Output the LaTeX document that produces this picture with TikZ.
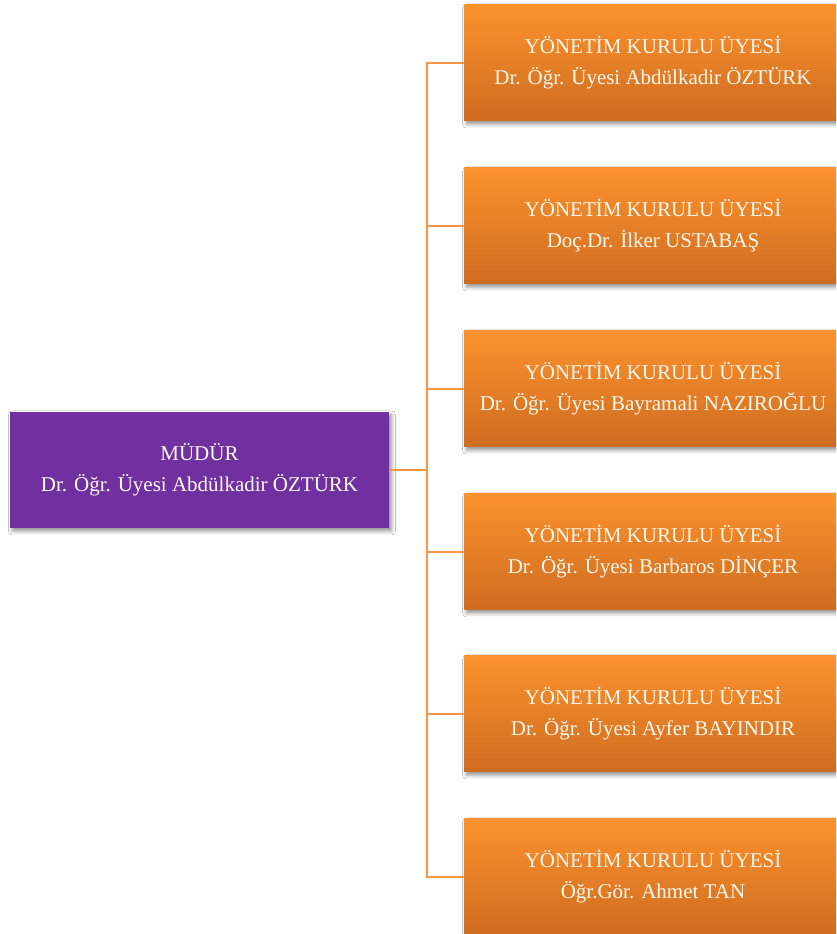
\documentclass[tikz,border=0pt]{standalone}
\usepackage{fontspec}
\setmainfont{Liberation Serif}
\usetikzlibrary{shadows.blur}
\definecolor{orgtop}{RGB}{252,146,46}
\definecolor{orgbot}{RGB}{206,108,32}
\definecolor{purp}{RGB}{112,48,160}
\definecolor{linec}{RGB}{247,150,70}
\definecolor{txt}{RGB}{255,250,240}
\tikzset{
  boxshadow/.style={blur shadow={shadow xshift=2.5pt, shadow yshift=-3pt, shadow blur radius=4pt, shadow opacity=45}},
  member/.style={rectangle, minimum width=378pt, minimum height=116pt, top color=orgtop, bottom color=orgbot, text=txt, font=\fontsize{21}{31}\selectfont, align=center, boxshadow},
  head/.style={rectangle, minimum width=379pt, minimum height=116pt, fill=purp, text=txt, font=\fontsize{21}{31}\selectfont, align=center, boxshadow},
  conn/.style={draw=linec, line width=1.5pt}
}
\begin{document}
\begin{tikzpicture}[x=1pt,y=1pt]
\useasboundingbox (0,0) rectangle (836,934);
\clip (0,0) rectangle (836,934);
\fill[white] (0,0) rectangle (836,934);
\node[head] (m) at (199.5,464) {MÜDÜR\\Dr. Öğr. Üyesi Abdülkadir ÖZTÜRK};
\node[member] (b1) at (653,871) {YÖNETİM KURULU ÜYESİ\\Dr. Öğr. Üyesi Abdülkadir ÖZTÜRK};
\node[member] (b2) at (653,708) {YÖNETİM KURULU ÜYESİ\\Doç.Dr. İlker USTABAŞ};
\node[member] (b3) at (653,545) {YÖNETİM KURULU ÜYESİ\\Dr. Öğr. Üyesi Bayramali NAZIROĞLU};
\node[member] (b4) at (653,382) {YÖNETİM KURULU ÜYESİ\\Dr. Öğr. Üyesi Barbaros DİNÇER};
\node[member] (b5) at (653,220) {YÖNETİM KURULU ÜYESİ\\Dr. Öğr. Üyesi Ayfer BAYINDIR};
\node[member] (b6) at (653,57) {YÖNETİM KURULU ÜYESİ\\Öğr.Gör. Ahmet TAN};
\coordinate (bus) at (427,464);
\foreach \b in {b1,b2,b3,b4,b5,b6}{
  \draw[conn] (m.east) -- (bus) |- (\b.west);
}
\end{tikzpicture}
\end{document}
